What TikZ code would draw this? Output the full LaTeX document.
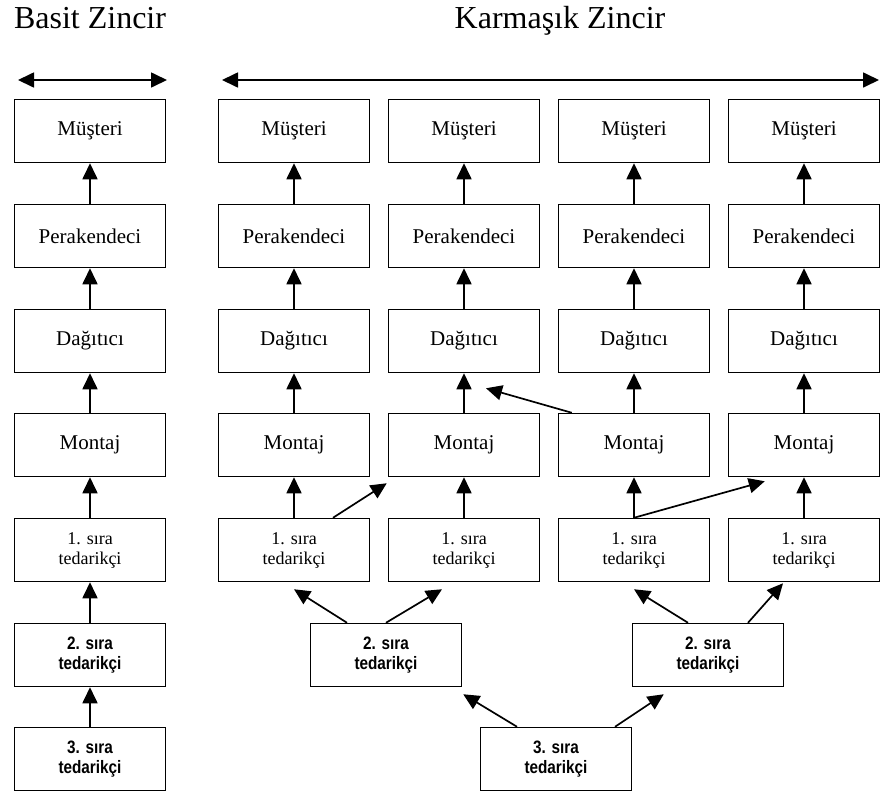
\documentclass[tikz,border=0pt]{standalone}
\usepackage{fontspec}
\setmainfont{Liberation Serif}
\newfontfamily\narrowsans[FakeStretch=0.85]{Liberation Sans}
\usepackage{tikz}
\usetikzlibrary{arrows.meta, calc}

\begin{document}
\begin{tikzpicture}[
  x=1pt, y=-1pt,
  >={Triangle[length=16pt, width=15pt]},
  stage/.style={draw, line width=1.5pt, minimum width=151pt, minimum height=63pt, inner sep=0pt, align=center, font=\fontsize{21}{24}\selectfont},
  tierone/.style={stage, font=\fontsize{18}{20}\selectfont},
  tiertwo/.style={stage, font=\narrowsans\bfseries\fontsize{18}{20}\selectfont},
  arr/.style={->, line width=1.7pt},
  heading/.style={anchor=base, inner sep=0pt, font=\fontsize{32}{36}\selectfont},
]
\useasboundingbox (0,0) rectangle (880,796);

% Titles
\node[heading] (basit) at (90, 28) {Basit Zincir};
\node[heading] (karma) at (560, 28) {Karmaşık Zincir};
\coordinate (lal) at (18, 80);
\coordinate (lar) at (167, 80);
\coordinate (ral) at (222, 80);
\coordinate (rar) at (879, 80);

% Simple chain
\node[stage] (musL) at (90, 131) {Müşteri};
\node[stage] (perL) at (90, 236) {Perakendeci};
\node[stage] (dagL) at (90, 341) {Dağıtıcı};
\node[stage] (monL) at (90, 445) {Montaj};
\node[tierone] (t1L) at (90, 550) {1. sıra\\tedarikçi};
\node[tiertwo] (t2L) at (90, 655) {2. sıra\\tedarikçi};
\node[tiertwo] (t3L) at (90, 759) {3. sıra\\tedarikçi};

% Complex chain
\node[stage] (musA) at (294, 131) {Müşteri};
\node[stage] (musB) at (464, 131) {Müşteri};
\node[stage] (musC) at (634, 131) {Müşteri};
\node[stage] (musD) at (804, 131) {Müşteri};
\node[stage] (perA) at (294, 236) {Perakendeci};
\node[stage] (perB) at (464, 236) {Perakendeci};
\node[stage] (perC) at (634, 236) {Perakendeci};
\node[stage] (perD) at (804, 236) {Perakendeci};
\node[stage] (dagA) at (294, 341) {Dağıtıcı};
\node[stage] (dagB) at (464, 341) {Dağıtıcı};
\node[stage] (dagC) at (634, 341) {Dağıtıcı};
\node[stage] (dagD) at (804, 341) {Dağıtıcı};
\node[stage] (monA) at (294, 445) {Montaj};
\node[stage] (monB) at (464, 445) {Montaj};
\node[stage] (monC) at (634, 445) {Montaj};
\node[stage] (monD) at (804, 445) {Montaj};
\node[tierone] (t1A) at (294, 550) {1. sıra\\tedarikçi};
\node[tierone] (t1B) at (464, 550) {1. sıra\\tedarikçi};
\node[tierone] (t1C) at (634, 550) {1. sıra\\tedarikçi};
\node[tierone] (t1D) at (804, 550) {1. sıra\\tedarikçi};
\node[tiertwo] (t2A) at (386, 655) {2. sıra\\tedarikçi};
\node[tiertwo] (t2B) at (708, 655) {2. sıra\\tedarikçi};
\node[tiertwo] (t3) at (556, 759) {3. sıra\\tedarikçi};

% Flows
\draw[arr, <->] (lal) -- (lar);
\draw[arr, <->] (ral) -- (rar);
\draw[arr] (perL) -- (musL);
\draw[arr] (dagL) -- (perL);
\draw[arr] (monL) -- (dagL);
\draw[arr] (t1L) -- (monL);
\draw[arr] (t2L) -- (t1L);
\draw[arr] (t3L) -- (t2L);

\draw[arr] (perA) -- (musA);
\draw[arr] (perB) -- (musB);
\draw[arr] (perC) -- (musC);
\draw[arr] (perD) -- (musD);
\draw[arr] (dagA) -- (perA);
\draw[arr] (dagB) -- (perB);
\draw[arr] (dagC) -- (perC);
\draw[arr] (dagD) -- (perD);
\draw[arr] (monA) -- (dagA);
\draw[arr] (monB) -- (dagB);
\draw[arr] (monC) -- (dagC);
\draw[arr] (monD) -- (dagD);
\draw[arr] (t1A) -- (monA);
\draw[arr] (t1B) -- (monB);
\draw[arr] (t1C) -- (monC);
\draw[arr] (t1D) -- (monD);

\draw[arr] ($(t1A.north)+(39,0)$) -- ($(monB.south west)+(-1,6)$);
\draw[arr] ($(monC.north west)+(14,0)$) -- ($(dagB.south)+(22,15)$);
\draw[arr] (t1C.north) -- ($(monD.south west)+(37,4)$);
\draw[arr] ($(t2A.north)+(-39,0)$) -- ($(t1A.south)+(0,7)$);
\draw[arr] (t2A.north) -- ($(t1B.south)+(-22,7)$);
\draw[arr] ($(t2B.north)+(-20,0)$) -- ($(t1C.south)+(0,7)$);
\draw[arr] ($(t2B.north)+(40,0)$) -- ($(t1D.south)+(-21,1)$);
\draw[arr] ($(t3.north)+(-39,0)$) -- ($(t2A.south east)+(1,7)$);
\draw[arr] ($(t3.north)+(59,0)$) -- ($(t2B.south west)+(32,7)$);

\end{tikzpicture}
\end{document}
